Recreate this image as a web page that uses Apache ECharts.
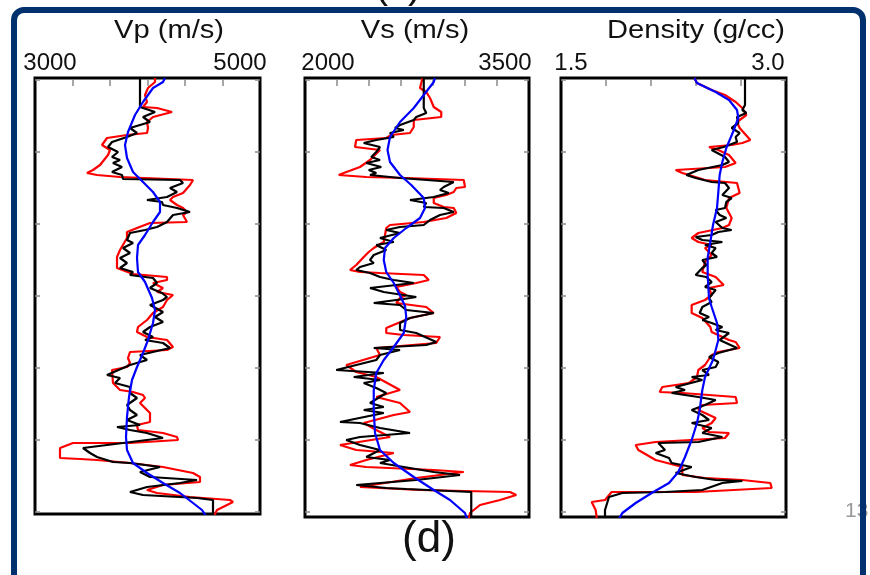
<!DOCTYPE html>
<html><head><meta charset="utf-8">
<script src="https://cdn.jsdelivr.net/npm/echarts@6/dist/echarts.min.js"></script>
<style>html,body{margin:0;padding:0;background:#fff}#c{width:870px;height:575px}</style>
</head><body><div id="c"></div>
<script>
// ---------- data ----------
const panelTitles = ['Vp (m/s)', 'Vs (m/s)', 'Density (g/cc)'];
const endLabels = [['3000', '5000'], ['2000', '3500'], ['1.5', '3.0']];
const depthTicks = [0, 72, 144, 216, 288, 360, 432];
const vpTicks = [3225, 3600, 3975, 4350, 4725];
const vsTicks = [2056, 2312, 2568, 2824, 3080, 3336];
const rhoTicks = [1.7675, 2.105, 2.4425, 2.78];

// [value, depth]
const vpLog = [[3900,-2],[3900,27],[4050,32],[3930,37],[4000,42],[3800,48],[3870,53],[3770,57],[3620,62],[3580,67],[3680,72],[3620,77],[3700,80],[3630,83],[3720,87],[3620,92],[3720,95],[3730,99],[4300,100],[4330,103],[4200,108],[4270,112],[4170,117],[3970,120],[4120,122],[4130,125],[4270,128],[4400,132],[4230,135],[4170,142],[4070,147],[3950,150],[3800,153],[3770,160],[3830,163],[3730,168],[3800,173],[3700,178],[3770,183],[3700,188],[3830,192],[3800,195],[4030,198],[4070,203],[4000,208],[4120,213],[4170,217],[4130,220],[4000,225],[4130,232],[4050,237],[4130,242],[4000,247],[3930,252],[4030,257],[3950,260],[4130,263],[4200,268],[3900,275],[3970,280],[3800,285],[3570,295],[3700,298],[3650,303],[3800,307],[3800,313],[3870,318],[3770,325],[3800,330],[3870,335],[3770,340],[3900,345],[3670,347],[3800,350],[3970,353],[4130,358],[3330,368],[3400,373],[3470,377],[3630,382],[3800,383],[4100,387],[3900,392],[4000,397],[4470,400],[4300,403],[3970,407],[3800,412],[3930,415],[4470,418],[4630,420],[4630,436]];
const vpInv = [[4050,-2],[4050,2],[3980,8],[3950,15],[3970,22],[3930,27],[4070,28],[4220,32],[4230,34],[4030,37],[3970,42],[3980,48],[3970,53],[3770,55],[3570,58],[3520,65],[3600,70],[3580,75],[3500,85],[3430,90],[3370,93],[3470,95],[3700,97],[4430,100],[4400,105],[4330,113],[4230,117],[4200,120],[4270,125],[4330,128],[4370,132],[4330,135],[4370,142],[4000,143],[3870,148],[3770,152],[3770,158],[3700,170],[3670,177],[3670,188],[3830,194],[4170,197],[4170,200],[4030,203],[4130,208],[4070,212],[4230,215],[4170,220],[4130,227],[4030,233],[3970,240],[3880,247],[3870,252],[3970,257],[4170,260],[4230,267],[4170,270],[3800,272],[3780,278],[3800,283],[3770,287],[3620,290],[3630,303],[3700,310],[3830,312],[3930,315],[3950,318],[3900,323],[4000,333],[4000,342],[3870,345],[3880,350],[4130,353],[4270,357],[4280,360],[3800,363],[3230,363],[3100,368],[3100,378],[3300,379],[3470,380],[3800,383],[4130,387],[4430,393],[4500,397],[4500,402],[4130,405],[3970,410],[4070,413],[4400,417],[4800,420],[4830,422],[4670,430],[4640,436]];
const vpTrend = [[4150,-2],[4130,2],[4030,8],[3930,22],[3850,35],[3780,52],[3750,65],[3770,78],[3830,92],[3930,102],[4030,112],[4100,122],[4100,132],[4030,142],[3950,155],[3880,165],[3870,178],[3880,192],[3950,202],[4020,218],[4050,230],[4030,243],[3980,260],[3930,273],[3870,287],[3820,300],[3790,317],[3770,337],[3760,357],[3770,370],[3830,383],[3970,393],[4130,403],[4300,413],[4430,423],[4520,430],[4560,436]];

const vsLog = [[2750,-2],[2750,28],[2770,33],[2690,37],[2670,40],[2560,45],[2520,48],[2590,50],[2480,53],[2510,57],[2370,60],[2270,63],[2400,67],[2370,72],[2330,77],[2400,80],[2290,83],[2410,87],[2310,90],[2370,93],[2320,95],[2560,98],[2990,102],[2910,107],[2880,110],[2950,113],[2830,117],[2640,120],[2770,123],[2750,127],[2910,128],[2990,132],[2880,135],[2800,140],[2750,145],[2560,147],[2450,150],[2560,153],[2400,158],[2510,162],[2370,165],[2450,170],[2350,175],[2320,180],[2350,183],[2240,187],[2210,190],[2320,193],[2400,197],[2510,200],[2670,203],[2320,208],[2430,212],[2690,217],[2590,219],[2350,223],[2560,225],[2610,230],[2830,233],[2640,238],[2560,243],[2560,250],[2690,253],[2850,262],[2770,265],[2350,268],[2560,270],[2400,275],[2370,280],[2050,290],[2430,293],[2190,297],[2400,300],[2270,303],[2370,308],[2450,313],[2320,323],[2430,327],[2270,330],[2430,333],[2080,342],[2240,343],[2400,348],[2640,353],[2240,357],[2130,360],[2240,365],[2400,370],[2290,377],[2480,380],[2400,383],[2830,392],[3040,395],[2690,400],[2210,405],[2450,408],[2610,409],[3130,412],[3130,440]];
const vsInv = [[2740,-2],[2730,3],[2720,8],[2770,12],[2800,18],[2830,27],[2890,32],[2890,37],[2670,40],[2670,47],[2640,53],[2490,55],[2450,58],[2210,60],[2200,67],[2400,70],[2320,80],[2240,87],[2110,93],[2070,95],[2290,97],[2610,98],[3070,100],[3080,107],[3010,108],[2990,112],[2930,115],[2830,118],[2830,123],[2910,127],[2990,128],[3010,133],[2930,138],[2750,142],[2480,145],[2450,148],[2440,155],[2430,162],[2350,168],[2310,172],[2270,177],[2210,185],[2160,190],[2240,192],[2400,193],[2750,195],[2790,200],[2690,203],[2530,207],[2560,212],[2610,215],[2560,218],[2530,223],[2770,227],[2830,233],[2640,238],[2450,248],[2450,253],[2590,255],[2880,257],[2850,263],[2370,268],[2400,275],[2130,285],[2210,292],[2370,297],[2560,310],[2370,317],[2560,323],[2640,332],[2510,335],[2270,343],[2370,350],[2480,357],[2080,365],[2210,370],[2510,373],[2290,380],[2160,385],[2290,387],[2830,390],[3070,392],[2690,398],[2240,407],[2720,410],[3440,412],[3490,415],[3360,420],[3200,425],[3120,433],[3110,440]];
const vsTrend = [[2840,-2],[2830,2],[2750,15],[2670,28],[2560,42],[2480,57],[2460,70],[2480,82],[2560,95],[2650,105],[2750,118],[2760,128],[2720,138],[2610,148],[2510,158],[2440,168],[2430,180],[2450,192],[2510,203],[2570,218],[2600,226],[2610,237],[2590,253],[2510,267],[2430,280],[2370,293],[2350,310],[2350,330],[2360,353],[2400,370],[2510,383],[2670,397],[2830,410],[2960,420],[3080,433],[3100,440]];

const rhoLog = [[2.81,-2],[2.81,25],[2.82,27],[2.79,30],[2.82,33],[2.75,37],[2.76,43],[2.71,48],[2.77,53],[2.74,57],[2.75,62],[2.65,67],[2.56,70],[2.66,77],[2.69,82],[2.64,85],[2.46,90],[2.37,95],[2.44,98],[2.56,102],[2.66,103],[2.69,108],[2.64,115],[2.71,118],[2.67,122],[2.66,128],[2.59,130],[2.62,135],[2.67,138],[2.59,142],[2.64,148],[2.71,150],[2.61,152],[2.56,155],[2.44,157],[2.49,160],[2.64,162],[2.51,165],[2.59,168],[2.56,173],[2.60,177],[2.49,180],[2.52,185],[2.49,188],[2.44,195],[2.52,197],[2.56,202],[2.51,207],[2.59,210],[2.54,218],[2.56,222],[2.49,227],[2.47,233],[2.54,237],[2.49,240],[2.56,243],[2.64,247],[2.59,250],[2.69,253],[2.62,260],[2.75,268],[2.61,273],[2.54,277],[2.61,282],[2.59,287],[2.49,290],[2.54,295],[2.41,297],[2.49,300],[2.29,307],[2.36,310],[2.26,313],[2.46,317],[2.59,320],[2.51,325],[2.41,330],[2.49,335],[2.54,340],[2.41,343],[2.56,348],[2.49,353],[2.64,357],[2.46,362],[2.16,363],[2.21,370],[2.14,373],[2.24,378],[2.26,383],[2.41,387],[2.29,393],[2.44,397],[2.59,400],[2.79,401],[2.64,403],[2.49,410],[2.21,412],[1.89,413],[1.79,417],[1.76,430],[1.76,440]];
const rhoInv = [[2.43,-2],[2.45,3],[2.56,10],[2.66,15],[2.74,22],[2.79,28],[2.82,35],[2.75,42],[2.77,48],[2.85,60],[2.79,63],[2.71,65],[2.54,67],[2.61,70],[2.69,75],[2.74,83],[2.66,87],[2.29,90],[2.34,93],[2.39,95],[2.51,100],[2.75,103],[2.77,113],[2.69,118],[2.67,128],[2.71,138],[2.69,145],[2.64,148],[2.46,153],[2.41,158],[2.46,162],[2.56,165],[2.51,168],[2.56,175],[2.51,182],[2.49,192],[2.59,197],[2.65,205],[2.54,208],[2.56,215],[2.51,220],[2.41,225],[2.41,233],[2.49,238],[2.55,247],[2.56,252],[2.69,260],[2.74,262],[2.77,268],[2.61,272],[2.56,275],[2.51,285],[2.46,290],[2.45,297],[2.39,303],[2.19,307],[2.17,312],[2.34,313],[2.54,315],[2.74,317],[2.75,323],[2.49,325],[2.46,330],[2.51,333],[2.59,338],[2.56,343],[2.49,348],[2.54,352],[2.69,353],[2.66,358],[2.14,362],[1.99,365],[2.01,370],[2.14,380],[2.34,387],[2.34,395],[2.51,398],[2.79,400],[3.00,403],[3.01,408],[2.44,412],[1.81,412],[1.76,420],[1.66,422],[1.69,430],[1.70,440]];
const rhoTrend = [[2.43,-2],[2.45,3],[2.59,12],[2.69,20],[2.75,30],[2.76,38],[2.72,52],[2.67,68],[2.64,82],[2.62,95],[2.61,112],[2.60,128],[2.57,145],[2.55,162],[2.53,178],[2.53,195],[2.54,218],[2.56,227],[2.60,243],[2.61,260],[2.57,280],[2.51,297],[2.49,310],[2.47,330],[2.45,343],[2.41,360],[2.36,377],[2.31,392],[2.24,403],[2.11,413],[1.99,423],[1.89,433],[1.86,440]];

// ---------- layout ----------
const panels = [
  {left: 35, width: 225, height: 436, xmin: 2850, xmax: 5100, ticks: vpTicks, dmax: 434, curves: [vpInv, vpLog, vpTrend], titleX: 169, labX: [50, 240]},
  {left: 305, width: 224, height: 439, xmin: 1800, xmax: 3592, ticks: vsTicks, dmax: 437, curves: [vsInv, vsLog, vsTrend], titleX: 415, labX: [328, 505]},
  {left: 561, width: 225, height: 439, xmin: 1.43, xmax: 3.1175, ticks: rhoTicks, dmax: 437, curves: [rhoInv, rhoLog, rhoTrend], titleX: 696, labX: [571, 768]}
];
const curveColors = ['#ff0000', '#000000', '#0000ff'];
const FONT = '"Liberation Sans", Arial, sans-serif';

const grid = [], xAxis = [], yAxis = [], series = [], graphic = [];
const tickStyle = {color: '#8a8a8a', width: 1.5};
panels.forEach((p, i) => {
  grid.push({left: p.left, top: 78, width: p.width, height: p.height, show: true, borderColor: '#000', borderWidth: 3, backgroundColor: 'transparent', containLabel: false});
  xAxis.push({gridIndex: i, type: 'value', position: 'top', min: p.xmin, max: p.xmax,
    axisLine: {show: false}, splitLine: {show: false}, axisLabel: {show: false},
    axisTick: {show: true, inside: true, length: 6, customValues: p.ticks, lineStyle: tickStyle}});
  ['left', 'right'].forEach(pos => {
    yAxis.push({gridIndex: i, type: 'value', position: pos, inverse: true, min: -2, max: p.dmax,
      axisLine: {show: false}, splitLine: {show: false}, axisLabel: {show: false},
      axisTick: {show: true, inside: true, length: 5, customValues: depthTicks, lineStyle: tickStyle}});
  });
  p.curves.forEach((c, k) => {
    series.push({type: 'line', xAxisIndex: i, yAxisIndex: i * 2, data: c, symbol: 'none',
      lineStyle: {color: curveColors[k], width: 2.2}, itemStyle: {color: curveColors[k]}, z: 2 + k, clip: true});
  });
  graphic.push({type: 'text', x: p.titleX, y: 31, scaleX: 1.12, style: {text: panelTitles[i], x: 0, y: 0, align: 'center', verticalAlign: 'middle', font: '26px ' + FONT, fill: '#111'}});
  endLabels[i].forEach((t, j) => {
    graphic.push({type: 'text', x: p.labX[j], y: 63.5, style: {text: t, x: 0, y: 0, align: 'center', verticalAlign: 'middle', font: '24px ' + FONT, fill: '#111'}});
  });
});
graphic.push({type: 'text', x: 429, y: 540, style: {text: '(d)', x: 0, y: 0, align: 'center', verticalAlign: 'middle', font: '44px ' + FONT, fill: '#111'}});
graphic.push({type: 'text', x: 398, y: -13, style: {text: '(c)', x: 0, y: 0, align: 'center', verticalAlign: 'middle', font: '40px ' + FONT, fill: '#111'}});
graphic.push({type: 'text', x: 845, y: 511, style: {text: '13', x: 0, y: 0, align: 'left', verticalAlign: 'middle', font: '21px ' + FONT, fill: '#999'}});
graphic.push({type: 'rect', z: 100, shape: {x: 14, y: 10, width: 849, height: 620, r: 10}, style: {fill: 'none', stroke: '#00306e', lineWidth: 6}});

const chart = echarts.init(document.getElementById('c'), null, {renderer: 'canvas'});
chart.setOption({animation: false, backgroundColor: '#fff', grid, xAxis, yAxis, series, graphic});
</script>
</body></html>
